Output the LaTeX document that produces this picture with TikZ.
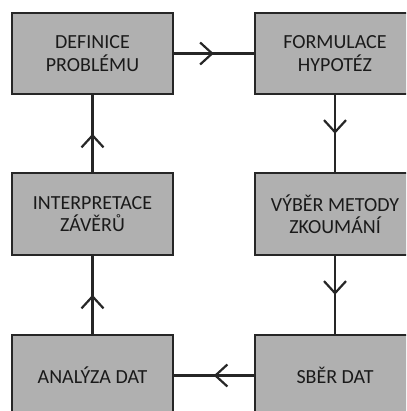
\documentclass[tikz,border=0pt]{standalone}
\usepackage{fontspec}
\setmainfont{Carlito}
\usetikzlibrary{arrows.meta,decorations.markings}
\definecolor{boxfill}{HTML}{B0B0B0}
\definecolor{boxline}{HTML}{262626}
\definecolor{txt}{HTML}{1A1A1A}
\begin{document}
\begin{tikzpicture}[x=1pt,y=-1pt,
  stepbox/.style={draw=boxline,line width=2pt,fill=boxfill,minimum width=161pt,minimum height=81pt,
    inner sep=0pt,align=center,text=txt,font=\fontsize{20}{22.5}\selectfont},
  conn/.style={draw=boxline,line width=2.2pt,
    postaction={decorate},
    decoration={markings,mark=at position 0.5 with {\arrow{Straight Barb[length=12pt,width=22pt,line width=2.2pt]}}}}]
\useasboundingbox (0,0) rectangle (406,411);
\clip (0,0) rectangle (406,411);
\fill[white] (0,0) rectangle (406,411);
\node[stepbox] (def) at (92.5,53.5) {DEFINICE\\PROBLÉMU};
\node[stepbox] (hyp) at (335,53.5) {FORMULACE\\HYPOTÉZ};
\node[stepbox] (int) at (92.5,214) {INTERPRETACE\\ZÁVĚRŮ};
\node[stepbox] (vyb) at (335,214) {VÝBĚR METODY\\ZKOUMÁNÍ};
\node[stepbox] (ana) at (92.5,375.5) {ANALÝZA DAT};
\node[stepbox] (sber) at (335,375.5) {SBĚR DAT};
\draw[conn] (def.east) -- (hyp.west);
\draw[conn] (hyp.south) -- (vyb.north);
\draw[conn] (vyb.south) -- (sber.north);
\draw[conn] (sber.west) -- (ana.east);
\draw[conn] (ana.north) -- (int.south);
\draw[conn] (int.north) -- (def.south);
\end{tikzpicture}
\end{document}
